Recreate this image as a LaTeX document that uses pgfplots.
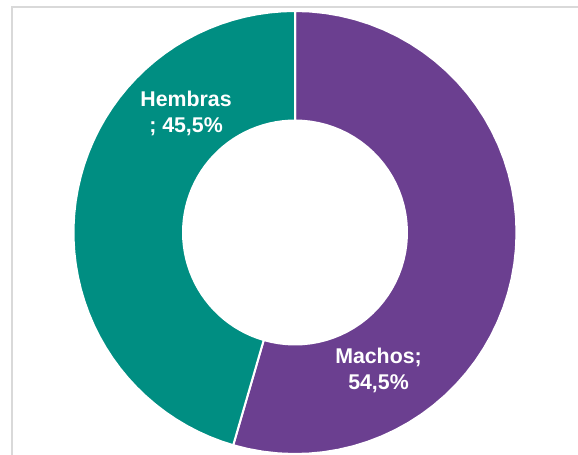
\documentclass[border=0pt]{standalone}
\usepackage{pgfplots}
\pgfplotsset{compat=1.18}
\usepackage{fontspec}
\setmainfont{Liberation Sans}
\definecolor{teal1}{RGB}{0,142,130}
\definecolor{purp1}{RGB}{107,63,144}
\definecolor{frame1}{RGB}{217,217,217}
% data (percent)
\def\valMachos{54.5}
\def\valHembras{45.5}
\begin{document}
\begin{tikzpicture}
\pgfmathsetmacro{\aA}{90}
\pgfmathsetmacro{\aB}{90-3.6*\valMachos}
\pgfmathsetmacro{\aC}{\aB-3.6*\valHembras}
\def\cx{295}\def\cy{222.5}\def\ro{221.5}\def\ri{112}
\begin{axis}[
  at={(0,0)}, anchor=origin,
  x=1bp, y=1bp,
  xmin=0, xmax=578, ymin=0, ymax=455,
  hide axis, clip=false,
]
\draw[frame1, line width=1.3bp] (axis cs:12,0) -- (axis cs:12,448) -- (axis cs:578,448);
% Machos
\addplot[fill=purp1, draw=white, line width=2bp, samples at={0,0.02,...,2.001}, variable=\t]
  ({\cx + ((\t>1.01) ? \ri : \ro)*cos( (\t>1.01) ? (\aB - (\aB-\aA)*(\t-1.02)/0.98) : (\aA + (\aB-\aA)*\t) )},
   {\cy + ((\t>1.01) ? \ri : \ro)*sin( (\t>1.01) ? (\aB - (\aB-\aA)*(\t-1.02)/0.98) : (\aA + (\aB-\aA)*\t) )}) -- cycle;
% Hembras
\addplot[fill=teal1, draw=white, line width=2bp, samples at={0,0.02,...,2.001}, variable=\t]
  ({\cx + ((\t>1.01) ? \ri : \ro)*cos( (\t>1.01) ? (\aC - (\aC-\aB)*(\t-1.02)/0.98) : (\aB + (\aC-\aB)*\t) )},
   {\cy + ((\t>1.01) ? \ri : \ro)*sin( (\t>1.01) ? (\aC - (\aC-\aB)*(\t-1.02)/0.98) : (\aB + (\aC-\aB)*\t) )}) -- cycle;
\node[text=white, font=\bfseries\fontsize{21.4}{26}\selectfont, align=center] at (axis cs:186,342) {Hembras\\; 45,5\%};
\node[text=white, font=\bfseries\fontsize{21.4}{26}\selectfont, align=center] at (axis cs:378.5,85) {Machos;\\54,5\%};
\end{axis}
\pgfresetboundingbox
\path (0,0) rectangle (578bp,455bp);
\end{tikzpicture}
\end{document}
